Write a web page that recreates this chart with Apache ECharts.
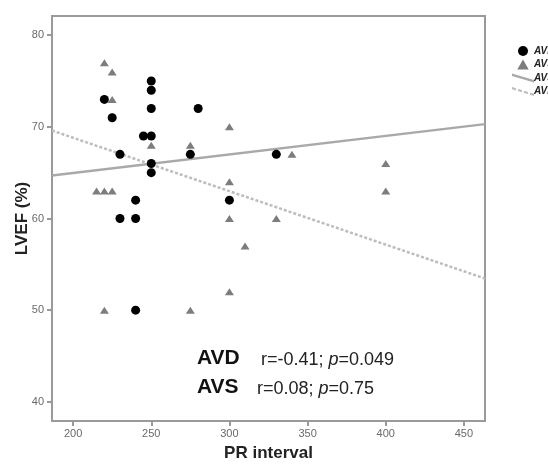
<!DOCTYPE html>
<html>
<head>
<meta charset="utf-8">
<script src="https://cdn.jsdelivr.net/npm/echarts@6/dist/echarts.min.js"></script>
<style>
html,body{margin:0;padding:0;background:#fff;}
#chart{width:548px;height:467px;}
</style>
</head>
<body>
<div id="chart"></div>
<script>
// ---- data ----
const avdPR    = [220, 225, 230, 230, 240, 240, 240, 245, 250, 250, 250, 250, 250, 250, 275, 280, 300, 330];
const avdLVEF  = [73,  71,  67,  60,  60,  62,  50,  69,  75,  74,  72,  69,  66,  65,  67,  72,  62,  67];
const avsPR    = [215, 220, 225, 220, 225, 225, 220, 250, 275, 275, 300, 300, 300, 300, 310, 330, 340, 400, 400];
const avsLVEF  = [63,  77,  76,  63,  73,  63,  50,  68,  68,  50,  70,  64,  60,  52,  57,  60,  67,  66,  63];
// fitted lines, endpoints read at the plot edges
const avsFitPR   = [186.5, 463.5];
const avsFitLVEF = [64.7, 70.3];
const avdFitPR   = [186.5, 463.5];
const avdFitLVEF = [69.6, 53.45];
// axes
const xTicks = [200, 250, 300, 350, 400, 450];
const yTicks = [40, 50, 60, 70, 80];
const xRange = [186.5, 463.5];
const yRange = [37.9, 82.1];
const seriesNames = ['AVD', 'AVS', 'AVS fit', 'AVD fit'];
const statsAVD = 'r=-0.41; {i|p}=0.049';
const statsAVS = 'r=0.08; {i|p}=0.75';

const zip = (a, b) => a.map((v, i) => [v, b[i]]);
const FONT = 'Liberation Sans, Arial, sans-serif';
const AXIS_GREY = '#9a9a9a';

const triIcon = 'path://M4,0L8,7L0,7Z';
const solidIcon = 'path://M0,0L22,6.5L22,9L0,2.5Z';
const dashIcon = 'path://M0,0L4,1.2L4,3.4L0,2.2Z M6,1.8L10,3L10,5.2L6,4Z M12,3.6L16,4.8L16,7L12,5.8Z M18,5.4L22,6.6L22,8.8L18,7.6Z';

const chart = echarts.init(document.getElementById('chart'), null, {renderer: 'canvas'});
chart.setOption({
  backgroundColor: '#fff',
  animation: false,
  textStyle: {fontFamily: FONT},
  grid: {
    left: 52, right: 63, top: 16, bottom: 46,
    show: true, borderColor: AXIS_GREY, borderWidth: 2, backgroundColor: '#fff'
  },
  legend: {
    orient: 'vertical',
    left: 507, top: 41,
    itemWidth: 22, itemHeight: 10, itemGap: 3.5,
    textStyle: {fontSize: 10, fontWeight: 'bold', fontStyle: 'italic', color: '#222', fontFamily: FONT, padding: [0,0,0,-5]},
    formatter: name => name.slice(0, 3),
    data: [
      {name: seriesNames[0], icon: 'circle'},
      {name: seriesNames[1], icon: triIcon},
      {name: seriesNames[2], icon: solidIcon},
      {name: seriesNames[3], icon: dashIcon}
    ]
  },
  xAxis: {
    type: 'value',
    min: xRange[0], max: xRange[1],
    name: 'PR interval',
    nameLocation: 'middle',
    nameMoveOverlap: false,
    nameGap: 24,
    nameTextStyle: {fontSize: 17, fontWeight: 'bold', color: '#222', fontFamily: FONT},
    axisLine: {show: true, lineStyle: {color: AXIS_GREY, width: 2}},
    axisTick: {show: true, length: 5, lineStyle: {color: AXIS_GREY, width: 2}, customValues: xTicks},
    axisLabel: {color: '#6a6a6a', fontSize: 11, margin: 7, customValues: xTicks, fontFamily: FONT},
    splitLine: {show: false}
  },
  yAxis: {
    type: 'value',
    min: yRange[0], max: yRange[1],
    name: 'LVEF (%)',
    nameLocation: 'middle',
    nameRotate: 90,
    nameMoveOverlap: false,
    nameGap: 21,
    nameTextStyle: {fontSize: 17, fontWeight: 'bold', color: '#222', fontFamily: FONT},
    axisLine: {show: true, lineStyle: {color: AXIS_GREY, width: 2}},
    axisTick: {show: true, length: 5, lineStyle: {color: AXIS_GREY, width: 2}, customValues: yTicks},
    axisLabel: {color: '#6a6a6a', fontSize: 11, margin: 8, customValues: yTicks, fontFamily: FONT},
    splitLine: {show: false}
  },
  series: [
    {
      name: seriesNames[2], type: 'line',
      data: zip(avsFitPR, avsFitLVEF),
      symbol: 'none', showSymbol: false,
      itemStyle: {color: '#a9a9a9'},
      lineStyle: {color: '#a9a9a9', width: 2.5, type: 'solid'},
      z: 2
    },
    {
      name: seriesNames[3], type: 'line',
      data: zip(avdFitPR, avdFitLVEF),
      symbol: 'none', showSymbol: false,
      itemStyle: {color: '#bdbdbd'},
      lineStyle: {color: '#bdbdbd', width: 2.5, type: [3, 2]},
      z: 2
    },
    {
      name: seriesNames[1], type: 'scatter',
      data: zip(avsPR, avsLVEF),
      symbol: 'triangle', symbolSize: [9, 7],
      itemStyle: {color: '#7d7d7d', opacity: 1},
      z: 3
    },
    {
      name: seriesNames[0], type: 'scatter',
      data: zip(avdPR, avdLVEF),
      symbol: 'circle', symbolSize: 9,
      itemStyle: {color: '#000', opacity: 1},
      z: 4
    }
  ],
  graphic: [
    {type: 'text', left: 197, top: 348, style: {text: 'AVD', font: 'bold 21px ' + FONT, fill: '#111'}},
    {type: 'text', left: 261, top: 351, style: {text: statsAVD, font: '18px ' + FONT, fill: '#222',
      rich: {i: {fontStyle: 'italic', fontSize: 18, fontFamily: FONT, color: '#222'}}}},
    {type: 'text', left: 197, top: 377, style: {text: 'AVS', font: 'bold 21px ' + FONT, fill: '#111'}},
    {type: 'text', left: 257, top: 380, style: {text: statsAVS, font: '18px ' + FONT, fill: '#222',
      rich: {i: {fontStyle: 'italic', fontSize: 18, fontFamily: FONT, color: '#222'}}}}
  ]
});
</script>
</body>
</html>
